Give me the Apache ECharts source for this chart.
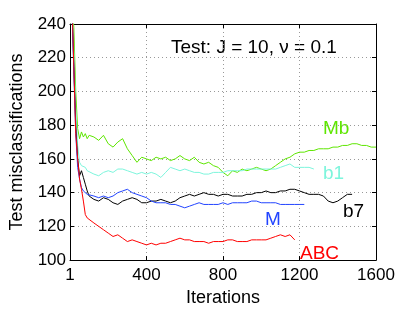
<!DOCTYPE html>
<html>
<head>
<meta charset="utf-8">
<script src="https://cdn.jsdelivr.net/npm/echarts@6/dist/echarts.min.js"></script>
<style>html,body{margin:0;padding:0;background:#fff}#c{width:415px;height:312px}</style>
</head>
<body>
<div id="c"></div>
<script>
const iters = [1,10,20,30,40,50,60,70,80,90,100,
125,150,175,200,225,250,275,300,325,350,375,400,425,450,475,500,525,550,575,600,
625,650,675,700,725,750,775,800,825,850,875,900,925,950,975,1000,1025,1050,1075,1100,
1125,1150,1175,1200,1225,1250,1275,1300,1325,1350,1375,1400,1425,1450,1475,1500,1525,1550,1575,1600];

const mb = [290,255,238,200,178,172,176,173,175,172,174,
173,171,174,169,167,170,172,166,162,158,161,160,159,161,160,161,159,160,162,160,
159,161,158,157,158,156,155,152,150,153,152,154,153,154,155,154,153,154,156,158,
160,161,163,164,164,165,165,166,166,166,167,167,168,168,169,169,168,168,167,167];

const b1 = [290,250,225,190,168,158,156,155,155,153,152,
151,150,152,153,152,154,154,153,152,151,152,151,152,151,149,152,155,154,153,154,
153,152,152,151,151,152,152,152,153,153,153,153,154,154,154,154,154,154,154,155,
156,157,155,155,155,155,154];

const b7 = [290,250,215,180,160,150,153,149,145,141,138,
136,135,137,136,134,133,135,136,137,136,134,134,135,135,136,135,134,135,137,138,
139,138,139,140,139,139,138,139,139,138,138,138,139,139,140,140,141,140,140,141,
141,142,142,141,140,139,139,139,138,135,134,135,137,139,139];

const m = [290,250,212,175,155,148,143,141,140,139,138,
138,137,138,137,138,140,141,142,140,139,138,137,135,134,134,134,133,133,132,131,
132,133,134,133,133,133,133,134,133,134,134,134,134,135,135,134,134,134,134,133,
133,133,133,133,133];

const abc = [290,255,215,175,160,148,142,135,127,125,124,
122,120,118,116,114,115,113,111,112,111,110,109,110,109,110,110,111,112,113,112,
112,111,111,111,110,111,111,111,112,112,111,111,111,112,112,112,112,113,114,115,
114,115,112];

const xTicks = [0,400,800,1200,1600];
const xTickLabels = ['1','400','800','1200','1600'];

const FONT = 'Liberation Sans, Arial, Helvetica, sans-serif';

function pairs(vals){ return vals.map((v,i)=>[iters[i], v]); }

const chart = echarts.init(document.getElementById('c'), null, {renderer:'canvas'});
const axisLineStyle = {color:'#000', width:1};
const option = {
  animation:false,
  grid:{left:63, right:39, top:24, bottom:45},
  xAxis:[{
    type:'value', min:0, max:1600, interval:400,
    axisLine:{show:true, onZero:false, lineStyle:axisLineStyle},
    axisTick:{show:true, inside:true, length:4, lineStyle:axisLineStyle},
    axisLabel:{fontSize:17, color:'#000', margin:7, fontFamily:FONT,
      formatter:v=>{const i=xTicks.indexOf(v);return i>=0?xTickLabels[i]:'';}},
    splitLine:{show:true, lineStyle:{type:[1,3], color:'#999', width:1}},
    name:'Iterations', nameLocation:'middle', nameGap:24,
    nameTextStyle:{fontSize:18, color:'#000', fontFamily:FONT}
  },{
    type:'value', position:'top', min:0, max:1600, interval:400,
    axisLine:{show:true, onZero:false, lineStyle:axisLineStyle},
    axisTick:{show:true, inside:true, length:4, lineStyle:axisLineStyle},
    axisLabel:{show:false}, splitLine:{show:false}
  }],
  yAxis:[{
    type:'value', min:100, max:240, interval:20,
    axisLine:{show:true, onZero:false, lineStyle:axisLineStyle},
    axisTick:{show:true, inside:true, length:4, lineStyle:axisLineStyle},
    axisLabel:{fontSize:17, color:'#000', margin:4, fontFamily:FONT},
    splitLine:{show:true, lineStyle:{type:[1,3], color:'#999', width:1}},
    name:'Test misclassifications', nameLocation:'middle', nameGap:44,
    nameTextStyle:{fontSize:18, color:'#000', fontFamily:FONT}
  },{
    type:'value', position:'right', min:100, max:240, interval:20,
    axisLine:{show:true, onZero:false, lineStyle:axisLineStyle},
    axisTick:{show:true, inside:true, length:4, lineStyle:axisLineStyle},
    axisLabel:{show:false}, splitLine:{show:false}
  }],
  series:[
    {name:'Mb', type:'line', data:pairs(mb), showSymbol:false, clip:true, lineStyle:{color:'#5ee600', width:1}},
    {name:'b1', type:'line', data:pairs(b1), showSymbol:false, clip:true, lineStyle:{color:'#7df5dc', width:1}},
    {name:'b7', type:'line', data:pairs(b7), showSymbol:false, clip:true, lineStyle:{color:'#000000', width:1}},
    {name:'M', type:'line', data:pairs(m), showSymbol:false, clip:true, lineStyle:{color:'#2244ff', width:1}},
    {name:'ABC', type:'line', data:pairs(abc), showSymbol:false, clip:true, lineStyle:{color:'#ff0000', width:1}}
  ],
  graphic:[
    {type:'text', left:171, top:38, style:{text:'Test: J = 10, ν = 0.1', fontSize:19, fill:'#000', fontFamily:FONT}},
    {type:'text', left:323, top:119, style:{text:'Mb', fontSize:19, fill:'#5ee600', fontFamily:FONT}},
    {type:'text', left:323, top:164, style:{text:'b1', fontSize:19, fill:'#7df5dc', fontFamily:FONT}},
    {type:'text', left:343, top:202, style:{text:'b7', fontSize:19, fill:'#000', fontFamily:FONT}},
    {type:'text', left:265, top:210, style:{text:'M', fontSize:19, fill:'#2244ff', fontFamily:FONT}},
    {type:'text', left:300, top:244, style:{text:'ABC', fontSize:19, fill:'#ff0000', fontFamily:FONT}}
  ]
};
chart.setOption(option);
</script>
</body>
</html>
